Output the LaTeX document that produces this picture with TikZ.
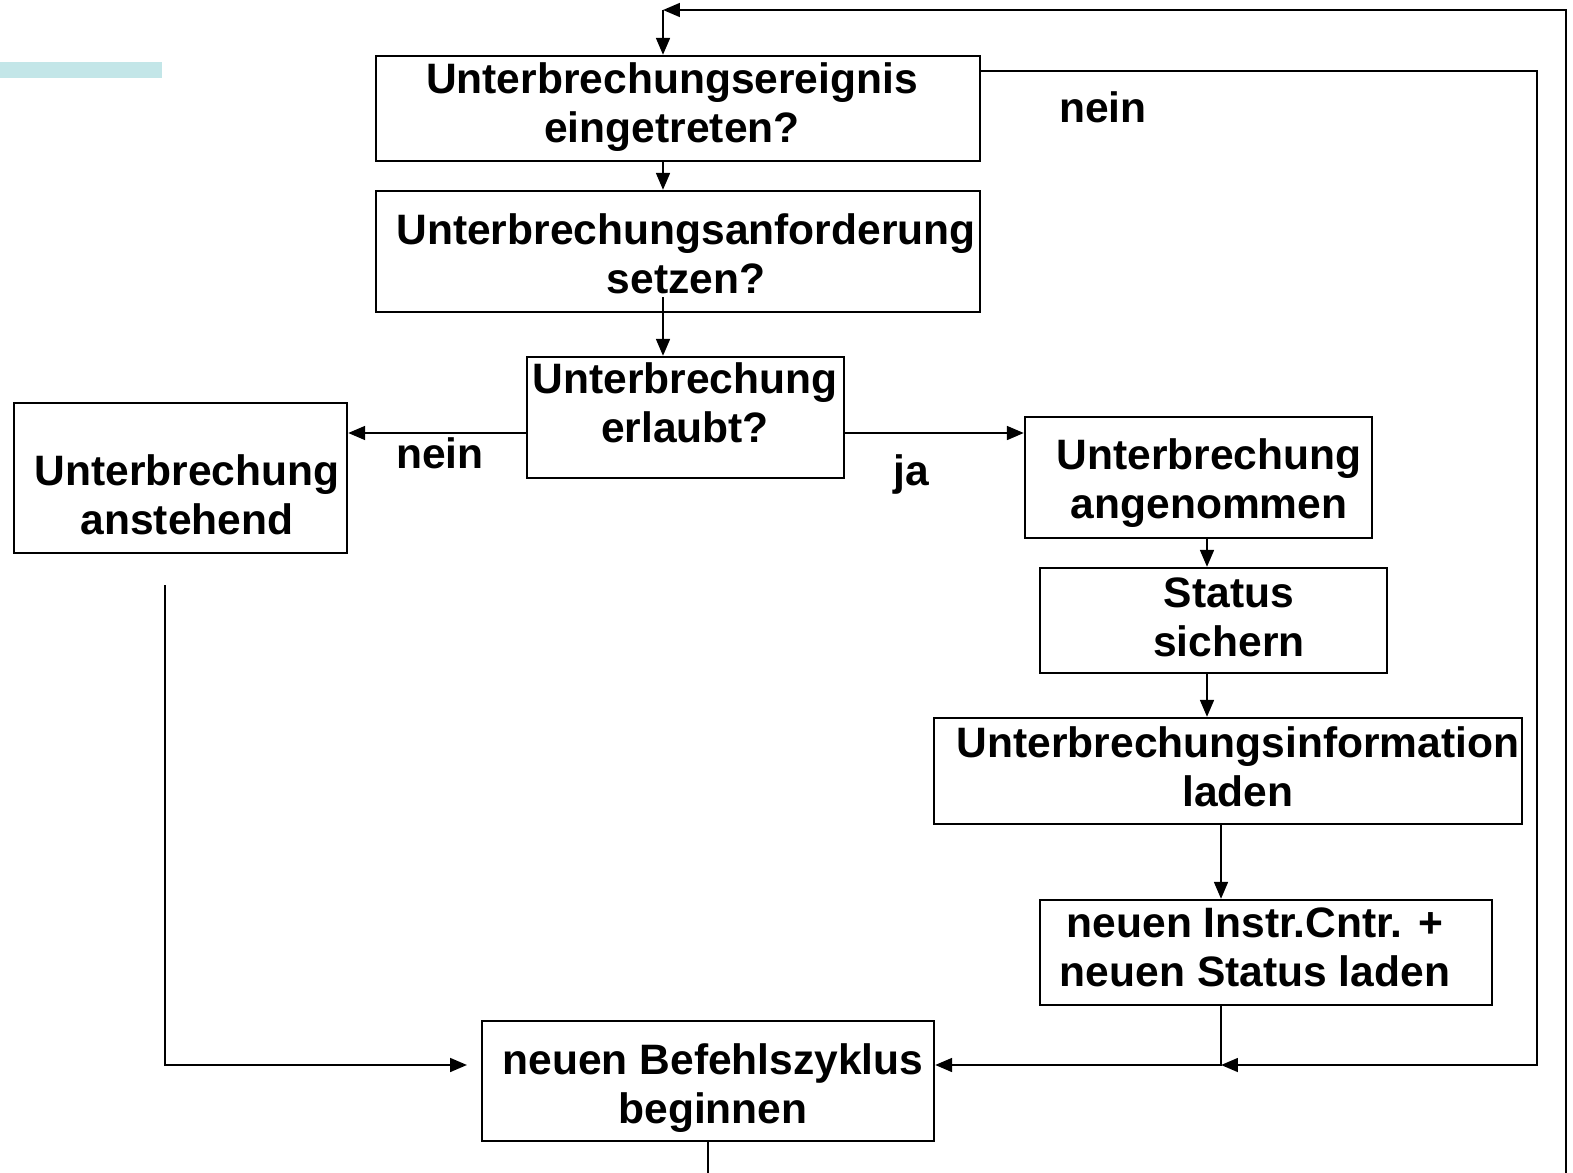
\documentclass[tikz,border=0pt]{standalone}
\usepackage{fontspec}
\setmainfont{Liberation Sans}
\usetikzlibrary{arrows.meta,fit}
\definecolor{barcyan}{RGB}{195,230,232}
\tikzset{
  x=0.01cm, y=-0.01cm,
  box/.style={draw, line width=0.65pt, inner sep=0pt},
  txt/.style={align=center, inner sep=0pt, font=\bfseries\fontsize{12.1}{14.2}\selectfont},
  lbl/.style={inner sep=0pt, anchor=base, font=\bfseries\fontsize{12.1}{14.2}\selectfont},
  arr/.style={line width=0.65pt, -{Triangle[length=4.8pt,width=3.9pt]}},
  ln/.style={line width=0.65pt}
}
\begin{document}
\begin{tikzpicture}
\useasboundingbox (0,0) rectangle (1573,1173);

% decorative bar
\fill[barcyan] (0,62) rectangle (162,78);

% boxes
\node[box, fit={(376,56) (980,161)}]   (b1) {};
\node[box, fit={(376,191) (980,312)}]  (b2) {};
\node[box, fit={(527,357) (844,478)}]  (b3) {};
\node[box, fit={(14,403) (347,553)}]   (b4) {};
\node[box, fit={(1025,417) (1372,538)}] (b5) {};
\node[box, fit={(1040,568) (1387,673)}] (b6) {};
\node[box, fit={(934,718) (1522,824)}]  (b7) {};
\node[box, fit={(1040,900) (1492,1005)}] (b8) {};
\node[box, fit={(482,1021) (934,1141)}] (b9) {};

% box texts
\node[txt] (t1) at (672,108)  {\strut Unterbrechungsereignis\\\strut eingetreten?};
\node[txt] (t2) at (686,259)  {\strut Unterbrechungsanforderung\\\strut setzen?};
\node[txt] (t3) at (685,408)  {\strut Unterbrechung\\\strut erlaubt?};
\node[txt] (t4) at (187,500)  {\strut Unterbrechung\\\strut anstehend};
\node[txt] (t5) at (1209,484) {\strut Unterbrechung\\\strut angenommen};
\node[txt] (t6) at (1229,622) {\strut Status\\\strut sichern};
\node[txt] (t7) at (1238,772) {\strut Unterbrechungsinformation\\\strut laden};
\node[txt] (t8) at (1255,952) {\strut neuen Instr.Cntr. +\\\strut neuen Status laden};
\node[txt] (t9) at (713,1089) {\strut neuen Befehlszyklus\\\strut beginnen};

% branch labels
\node[lbl] (n1) at (1103,123) {nein};
\node[lbl] (n2) at (440,468)  {nein};
\node[lbl] (n3) at (911,485)  {ja};

% helper coordinates
\coordinate (tl) at (663,10);
\coordinate (s2) at (663,297);
\coordinate (ya) at (0,433);
\coordinate (c5) at (1207,0);
\coordinate (c7) at (1221,0);
\coordinate (j)  at (1221,1065);
\coordinate (ry) at (1537,71);
\coordinate (l0) at (165,585);
\coordinate (l1) at (467,1065);
\coordinate (lb) at (1566,1220);
\coordinate (rr) at (1566,10);

% main flow
\draw[arr] (tl) -- (tl |- b1.north);
\draw[arr] (tl |- b1.south) -- (tl |- b2.north);
\draw[arr] (s2) -- (tl |- b3.north);
\draw[arr] (b3.west |- ya) -- (b4.east |- ya);
\draw[arr] (b3.east |- ya) -- (b5.west |- ya);
\draw[arr] (c5 |- b5.south) -- (c5 |- b6.north);
\draw[arr] (c5 |- b6.south) -- (c5 |- b7.north);
\draw[arr] (c7 |- b7.south) -- (c7 |- b8.north);
\draw[arr] (c7 |- b8.south) -- (j) -- (b9.east |- j);

% "nein" path from the first decision
\draw[arr] (b1.east |- ry) -- (ry) -- (ry |- j) -- (j);

% pending interrupt path
\draw[arr] (l0) -- (l0 |- j) -- (l1);

% loop back to the start
\draw[arr] (b9.south) |- (lb) -- (rr) -- (tl);
\end{tikzpicture}
\end{document}
